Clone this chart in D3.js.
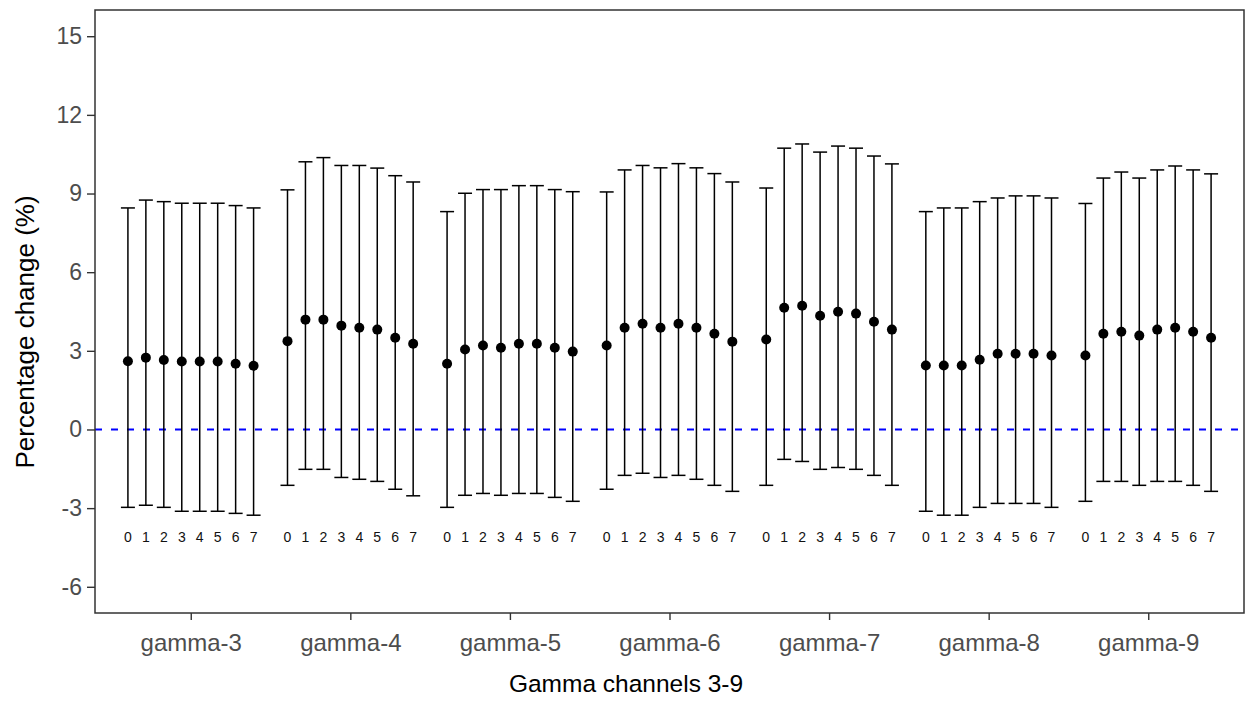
<!DOCTYPE html>
<html>
<head>
<meta charset="utf-8">
<script src="https://cdn.jsdelivr.net/npm/d3@7"></script>
<style>
  body { margin: 0; background: #fff; }
  svg { display: block; }
</style>
</head>
<body>
<svg id="chart"></svg>
<script>
// categories and sub-lags
const groups = ['gamma-3', 'gamma-4', 'gamma-5', 'gamma-6', 'gamma-7', 'gamma-8', 'gamma-9'];
const lags = ['0', '1', '2', '3', '4', '5', '6', '7'];

// point estimates, one row per group, one value per lag
const estimates = [
    [2.60, 2.74, 2.65, 2.59, 2.59, 2.59, 2.51, 2.43],
    [3.37, 4.19, 4.19, 3.96, 3.88, 3.81, 3.50, 3.27],
    [2.51, 3.05, 3.20, 3.12, 3.27, 3.27, 3.12, 2.97],
    [3.20, 3.88, 4.03, 3.88, 4.03, 3.88, 3.65, 3.35],
    [3.43, 4.64, 4.72, 4.34, 4.49, 4.42, 4.11, 3.81],
    [2.44, 2.44, 2.44, 2.66, 2.89, 2.89, 2.89, 2.82],
    [2.82, 3.65, 3.73, 3.58, 3.81, 3.88, 3.73, 3.50]
];
const upper = [
    [8.45, 8.75, 8.69, 8.63, 8.63, 8.63, 8.54, 8.45],
    [9.14, 10.21, 10.37, 10.07, 10.07, 9.97, 9.68, 9.44],
    [8.31, 9.01, 9.15, 9.15, 9.30, 9.30, 9.15, 9.07],
    [9.06, 9.90, 10.07, 9.98, 10.14, 9.98, 9.76, 9.44],
    [9.21, 10.73, 10.89, 10.58, 10.81, 10.73, 10.43, 10.13],
    [8.31, 8.45, 8.45, 8.69, 8.83, 8.91, 8.91, 8.83],
    [8.62, 9.59, 9.82, 9.59, 9.90, 10.05, 9.90, 9.75]
];
const lower = [
    [-2.97, -2.89, -2.97, -3.12, -3.12, -3.12, -3.20, -3.27],
    [-2.13, -1.52, -1.52, -1.83, -1.90, -1.98, -2.28, -2.53],
    [-2.97, -2.51, -2.44, -2.51, -2.44, -2.44, -2.59, -2.74],
    [-2.28, -1.75, -1.67, -1.83, -1.75, -1.90, -2.13, -2.36],
    [-2.13, -1.14, -1.22, -1.52, -1.45, -1.52, -1.75, -2.13],
    [-3.12, -3.27, -3.27, -2.97, -2.82, -2.82, -2.82, -2.97],
    [-2.74, -1.98, -1.98, -2.13, -1.98, -1.98, -2.13, -2.36]
];
const yTicks = [-6, -3, 0, 3, 6, 9, 12, 15];
const lagLabelY = -4.1;

const width = 1248;
const height = 702;
const margin = { top: 10, right: 4, bottom: 89, left: 95 };
const innerW = width - margin.left - margin.right;
const innerH = height - margin.top - margin.bottom;
const font = 'Liberation Sans, Arial, sans-serif';

const svg = d3.select('#chart').attr('width', width).attr('height', height);
const g = svg.append('g').attr('transform', `translate(${margin.left},${margin.top})`);

// discrete axis: each category is one unit, expansion 0.6 each side
const x = d3.scalePoint()
    .domain(groups)
    .range([0, innerW])
    .padding(0.6);
const step = x.step();

const sub = d3.scaleBand()
    .domain(lags)
    .range([-step * 0.45, step * 0.45]);

const y = d3.scaleLinear().domain([-7, 16]).range([innerH, 0]);

const rows = [];
groups.forEach((grp, gi) => {
    lags.forEach((lag, li) => {
        rows.push({
            group: grp,
            lag: lag,
            est: estimates[gi][li],
            lo: lower[gi][li],
            hi: upper[gi][li]
        });
    });
});
const px = d => x(d.group) + sub(d.lag) + sub.bandwidth() / 2;

// zero reference line
g.append('line')
    .attr('x1', 0)
    .attr('x2', innerW)
    .attr('y1', Math.round(y(0)) + 0.5)
    .attr('y2', Math.round(y(0)) + 0.5)
    .attr('stroke', '#0000FF')
    .attr('stroke-width', 2)
    .attr('stroke-dasharray', '7,9');

// error bars
const bars = g.append('g').attr('class', 'errorbars');
const capW = 14;
bars.selectAll('line.stem')
    .data(rows)
    .enter()
    .append('line')
    .attr('class', 'stem')
    .attr('x1', px)
    .attr('x2', px)
    .attr('y1', d => y(d.lo))
    .attr('y2', d => y(d.hi))
    .attr('stroke', '#000')
    .attr('stroke-width', 1.5);

['lo', 'hi'].forEach(k => {
    bars.selectAll('line.cap-' + k)
        .data(rows)
        .enter()
        .append('line')
        .attr('class', 'cap-' + k)
        .attr('x1', d => px(d) - capW / 2)
        .attr('x2', d => px(d) + capW / 2)
        .attr('y1', d => y(d[k]))
        .attr('y2', d => y(d[k]))
        .attr('stroke', '#000')
        .attr('stroke-width', 1.5);
});

// points
g.append('g')
    .selectAll('circle')
    .data(rows)
    .enter()
    .append('circle')
    .attr('cx', px)
    .attr('cy', d => y(d.est))
    .attr('r', 5)
    .attr('fill', '#000');

// lag labels
g.append('g')
    .selectAll('text')
    .data(rows)
    .enter()
    .append('text')
    .attr('x', px)
    .attr('y', y(lagLabelY))
    .attr('dy', '0.35em')
    .attr('text-anchor', 'middle')
    .style('font-family', font)
    .style('font-size', '14px')
    .attr('fill', '#111')
    .text(d => d.lag);

// panel border
g.append('rect')
    .attr('x', 0)
    .attr('y', 0)
    .attr('width', innerW)
    .attr('height', innerH)
    .attr('fill', 'none')
    .attr('stroke', '#333')
    .attr('stroke-width', 1.5);

// y axis
const yAxis = g.append('g')
    .call(d3.axisLeft(y).tickValues(yTicks).tickFormat(d => String(d)).tickSize(8).tickPadding(5));
yAxis.select('.domain').remove();
yAxis.selectAll('line').attr('stroke', '#333').attr('stroke-width', 1.4);
yAxis.selectAll('text')
    .style('font-family', font)
    .style('font-size', '23px')
    .attr('fill', '#4d4d4d');

// x axis
const xAxis = g.append('g')
    .attr('transform', `translate(0,${innerH})`)
    .call(d3.axisBottom(x).tickSize(7).tickPadding(14));
xAxis.select('.domain').remove();
xAxis.selectAll('line').attr('stroke', '#333').attr('stroke-width', 1.4);
xAxis.selectAll('text')
    .style('font-family', font)
    .style('font-size', '24px')
    .attr('fill', '#4d4d4d');

// axis titles
svg.append('text')
    .attr('x', 626)
    .attr('y', 692)
    .attr('text-anchor', 'middle')
    .style('font-family', font)
    .style('font-size', '24.5px')
    .attr('fill', '#000')
    .text('Gamma channels 3-9');

svg.append('text')
    .attr('transform', 'translate(34,332) rotate(-90)')
    .attr('text-anchor', 'middle')
    .style('font-family', font)
    .style('font-size', '26px')
    .attr('fill', '#000')
    .text('Percentage change (%)');
</script>
</body>
</html>
